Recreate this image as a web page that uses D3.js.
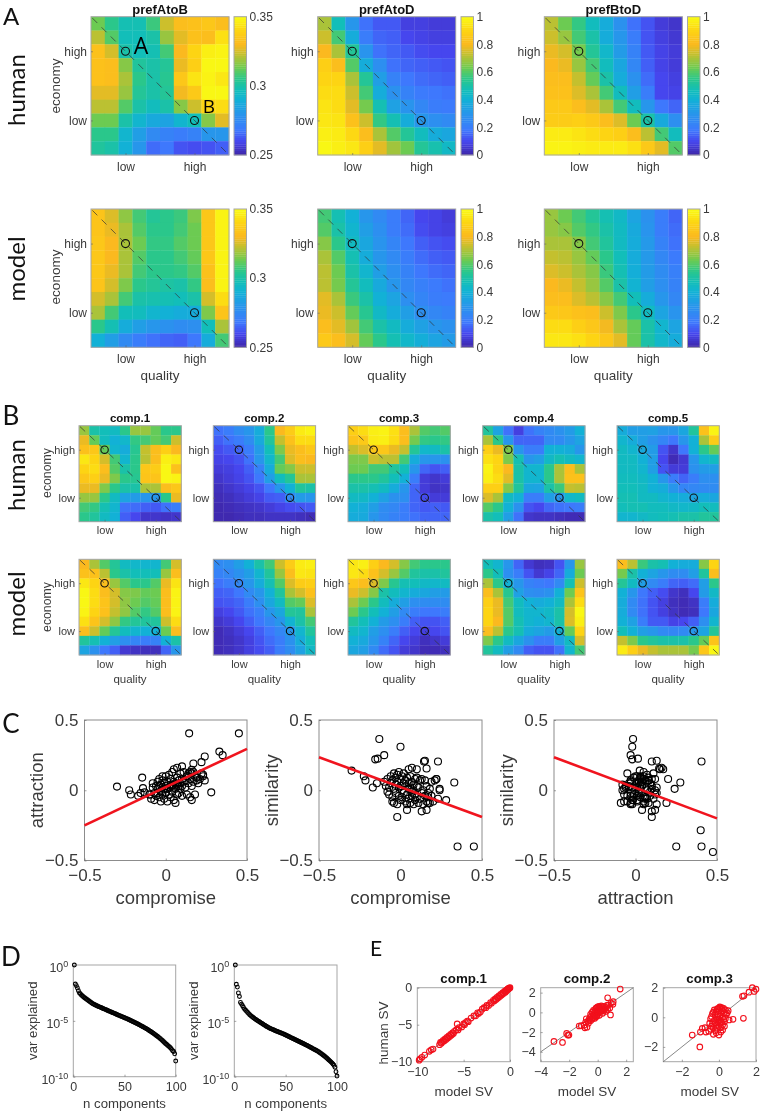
<!DOCTYPE html>
<html lang="en">
<head>
<meta charset="utf-8" />
<script src="https://cdnjs.cloudflare.com/ajax/libs/d3/7.8.5/d3.min.js"></script>
<style>
  html, body { margin: 0; padding: 0; background: #fff; }
  svg { display: block; font-family: "Liberation Sans", sans-serif; filter: blur(0.35px); }
</style>
</head>
<body>
<div id="chart"></div>
<script>
var parulaStops = ["#3e26a8", "#4646ee", "#3e78fd", "#2796eb", "#12b1d6", "#12beb9", "#2ac78b", "#6ccb52", "#c4c02e", "#fbb91f", "#fdd413", "#f9fb14"];
var parulaPos = [0, .1, .18, .3, .4, .47, .55, .63, .73, .8, .9, 1];

var tickLow = 2.5, tickHigh = 7.5;
var levelLabels = ["low", "high"];

var prefAtoBHuman = [
  [.313,.305,.298,.298,.307,.324,.332,.333,.335,.332],
  [.322,.31,.297,.297,.3,.318,.327,.333,.332,.343],
  [.333,.325,.3,.297,.298,.308,.33,.34,.347,.348],
  [.333,.332,.316,.302,.3,.303,.328,.338,.349,.349],
  [.333,.332,.32,.305,.3,.304,.335,.344,.348,.345],
  [.327,.327,.318,.303,.3,.303,.329,.336,.349,.349],
  [.322,.322,.31,.3,.296,.3,.316,.324,.34,.342],
  [.313,.313,.3,.292,.287,.285,.292,.297,.316,.327],
  [.305,.305,.292,.283,.275,.272,.27,.272,.28,.28],
  [.302,.3,.29,.28,.266,.268,.262,.261,.262,.264]];
var prefAtoDHuman = [
  [.7,.47,.3,.17,.13,.13,.08,.08,.07,.07],
  [.74,.58,.38,.2,.15,.14,.1,.09,.08,.08],
  [.8,.7,.53,.29,.17,.15,.13,.11,.1,.1],
  [.88,.82,.6,.38,.27,.17,.15,.14,.13,.12],
  [.9,.9,.7,.53,.33,.22,.18,.16,.15,.14],
  [.92,.92,.74,.58,.38,.28,.22,.19,.18,.17],
  [.94,.92,.77,.64,.48,.34,.29,.24,.2,.19],
  [.95,.94,.83,.74,.56,.48,.38,.3,.27,.25],
  [.97,.96,.91,.82,.7,.6,.53,.46,.38,.36],
  [.99,.97,.95,.88,.77,.69,.63,.53,.49,.44]];
var prefBtoDHuman = [
  [.72,.63,.56,.46,.38,.28,.17,.12,.07,.05],
  [.74,.68,.58,.5,.38,.3,.2,.12,.08,.06],
  [.78,.75,.64,.53,.43,.32,.22,.13,.09,.07],
  [.8,.78,.68,.58,.46,.36,.24,.14,.09,.07],
  [.82,.82,.73,.62,.5,.38,.28,.16,.1,.08],
  [.83,.83,.76,.7,.58,.46,.33,.2,.1,.09],
  [.86,.86,.82,.77,.7,.58,.46,.3,.18,.15],
  [.87,.87,.88,.86,.82,.76,.63,.5,.37,.27],
  [.96,.96,.94,.92,.9,.88,.82,.72,.58,.46],
  [.98,.98,.97,.96,.96,.96,.93,.86,.77,.6]];
var prefAtoBModel = [
  [.334,.326,.317,.308,.303,.305,.307,.315,.335,.348],
  [.334,.328,.32,.31,.305,.305,.308,.313,.335,.348],
  [.335,.33,.32,.313,.306,.306,.31,.313,.335,.348],
  [.335,.33,.32,.31,.305,.305,.308,.312,.335,.348],
  [.335,.328,.32,.308,.305,.305,.306,.31,.333,.348],
  [.334,.325,.315,.305,.303,.301,.3,.306,.332,.348],
  [.325,.32,.308,.3,.299,.298,.297,.3,.325,.342],
  [.32,.308,.297,.296,.292,.29,.288,.288,.315,.334],
  [.305,.298,.288,.283,.28,.278,.276,.277,.297,.32],
  [.29,.283,.275,.27,.267,.265,.264,.268,.288,.308]];
var prefAtoDModel = [
  [.58,.48,.4,.3,.25,.2,.15,.1,.09,.07],
  [.6,.5,.42,.33,.27,.2,.16,.11,.09,.08],
  [.66,.55,.45,.36,.29,.23,.18,.14,.12,.11],
  [.7,.6,.48,.38,.3,.25,.2,.16,.14,.13],
  [.72,.63,.5,.42,.33,.27,.22,.18,.16,.15],
  [.72,.64,.53,.46,.37,.3,.24,.21,.19,.17],
  [.77,.7,.57,.5,.4,.35,.27,.23,.2,.19],
  [.78,.74,.62,.54,.44,.38,.33,.27,.24,.22],
  [.82,.77,.69,.58,.5,.45,.38,.34,.3,.28],
  [.86,.82,.75,.62,.55,.48,.43,.39,.35,.32]];
var prefBtoDModel = [
  [.68,.63,.58,.53,.48,.44,.35,.28,.2,.15],
  [.68,.66,.6,.56,.5,.45,.37,.29,.2,.16],
  [.7,.7,.66,.58,.52,.45,.38,.31,.22,.17],
  [.73,.72,.68,.62,.55,.47,.38,.31,.24,.19],
  [.76,.74,.7,.66,.57,.48,.39,.32,.26,.21],
  [.8,.78,.73,.68,.6,.5,.41,.33,.27,.22],
  [.82,.82,.76,.72,.66,.58,.47,.38,.3,.24],
  [.86,.85,.83,.82,.74,.65,.55,.45,.35,.29],
  [.92,.92,.88,.85,.79,.7,.62,.5,.42,.35],
  [.95,.95,.93,.9,.85,.77,.62,.5,.43,.38]];

var comp1Human = [
  [.68,.5,.47,.45,.55,.68,.68,.62,.55,.55],
  [.78,.62,.46,.4,.43,.56,.58,.62,.58,.74],
  [.83,.85,.62,.42,.38,.54,.73,.82,.88,.8],
  [.95,.9,.75,.58,.42,.55,.72,.82,.97,.95],
  [.9,.92,.82,.6,.5,.55,.85,.87,.99,.83],
  [.85,.88,.78,.65,.55,.54,.84,.84,.99,.98],
  [.78,.78,.65,.55,.5,.5,.7,.7,.82,.85],
  [.68,.68,.55,.45,.35,.32,.3,.3,.55,.78],
  [.58,.56,.48,.42,.17,.16,.14,.13,.17,.2],
  [.55,.52,.45,.4,.14,.1,.05,.05,.04,.05]];
var comp2Human = [
  [.17,.2,.26,.3,.38,.55,.8,.87,.96,.98],
  [.14,.17,.2,.26,.37,.52,.73,.83,.92,.92],
  [.11,.13,.15,.2,.32,.47,.65,.78,.82,.85],
  [.09,.1,.12,.17,.3,.43,.58,.76,.82,.8],
  [.07,.08,.1,.14,.22,.38,.62,.66,.74,.74],
  [.05,.07,.09,.12,.18,.33,.46,.53,.7,.7],
  [.03,.05,.07,.09,.12,.18,.3,.4,.52,.5],
  [.02,.03,.05,.07,.09,.13,.14,.25,.32,.3],
  [.01,.02,.03,.04,.05,.07,.09,.11,.12,.13],
  [.01,.01,.02,.03,.03,.04,.04,.04,.03,.02]];
var comp3Human = [
  [.88,.92,.97,.98,.93,.82,.7,.6,.58,.6],
  [.84,.86,.96,.97,.92,.82,.64,.56,.55,.56],
  [.73,.76,.85,.85,.78,.73,.53,.43,.45,.5],
  [.65,.65,.74,.72,.72,.58,.38,.3,.3,.28],
  [.63,.63,.58,.58,.52,.47,.3,.15,.12,.14],
  [.55,.55,.55,.52,.47,.4,.2,.07,.05,.07],
  [.5,.5,.48,.45,.38,.3,.15,.07,.04,.05],
  [.45,.44,.4,.34,.28,.27,.15,.11,.07,.07],
  [.4,.38,.33,.26,.24,.2,.15,.13,.14,.13],
  [.38,.37,.3,.25,.22,.2,.17,.15,.15,.15]];
var comp4Human = [
  [.52,.35,.17,.08,.17,.22,.25,.28,.32,.4],
  [.7,.55,.3,.15,.15,.15,.25,.25,.3,.35],
  [.88,.78,.65,.3,.2,.2,.4,.4,.38,.3],
  [.93,.9,.65,.48,.3,.33,.44,.48,.45,.42],
  [.98,.9,.8,.5,.42,.42,.55,.7,.82,.7],
  [.97,.92,.77,.5,.42,.42,.55,.7,.83,.83],
  [.88,.88,.66,.52,.36,.35,.5,.57,.73,.72],
  [.76,.7,.45,.4,.2,.2,.33,.3,.43,.45],
  [.6,.55,.4,.28,.12,.1,.15,.17,.18,.2],
  [.5,.47,.33,.17,.05,.04,.04,.03,.02,.02]];
var comp5Human = [
  [.38,.33,.33,.34,.3,.3,.36,.52,.83,.98],
  [.42,.38,.33,.28,.23,.18,.3,.4,.7,.87],
  [.45,.42,.37,.32,.12,.05,.18,.4,.55,.62],
  [.45,.45,.4,.33,.1,.02,.06,.3,.42,.45],
  [.45,.45,.42,.33,.12,.07,.07,.28,.32,.33],
  [.46,.46,.44,.4,.3,.2,.15,.2,.27,.27],
  [.47,.47,.45,.4,.38,.3,.23,.24,.25,.26],
  [.48,.48,.45,.45,.42,.4,.38,.35,.38,.36],
  [.47,.48,.48,.46,.46,.44,.43,.44,.47,.46],
  [.42,.42,.44,.46,.47,.48,.5,.5,.52,.52]];
var comp1Model = [
  [.8,.7,.6,.53,.45,.43,.42,.42,.58,.75],
  [.83,.83,.72,.55,.5,.47,.47,.47,.68,.82],
  [.95,.9,.82,.68,.6,.55,.55,.6,.78,.94],
  [.99,.92,.82,.75,.66,.65,.62,.63,.82,.98],
  [.99,.92,.84,.75,.67,.63,.6,.62,.82,.98],
  [.98,.9,.83,.73,.67,.6,.56,.6,.82,.98],
  [.93,.84,.75,.67,.56,.53,.52,.52,.74,.92],
  [.82,.74,.62,.53,.46,.42,.4,.4,.63,.82],
  [.52,.48,.4,.33,.27,.23,.2,.22,.4,.5],
  [.35,.28,.18,.14,.06,.04,.03,.03,.15,.3]];
var comp2Model = [
  [.25,.27,.33,.4,.5,.58,.74,.87,.96,.97],
  [.22,.24,.28,.33,.42,.52,.68,.82,.95,.94],
  [.17,.2,.24,.3,.38,.48,.6,.76,.87,.88],
  [.14,.15,.18,.25,.3,.4,.52,.7,.75,.83],
  [.12,.13,.15,.2,.27,.36,.45,.6,.62,.76],
  [.08,.1,.13,.17,.21,.3,.36,.53,.52,.7],
  [.05,.07,.1,.14,.18,.24,.3,.41,.5,.58],
  [.02,.04,.07,.1,.14,.18,.24,.3,.42,.52],
  [.02,.03,.05,.08,.12,.16,.2,.28,.38,.47],
  [.02,.03,.05,.08,.11,.14,.2,.26,.34,.44]];
var comp3Model = [
  [.95,.97,.88,.8,.75,.66,.58,.55,.55,.55],
  [.95,.92,.83,.75,.68,.6,.52,.5,.5,.52],
  [.85,.82,.76,.65,.54,.48,.47,.44,.43,.45],
  [.78,.74,.66,.5,.46,.42,.38,.36,.33,.32],
  [.7,.63,.55,.46,.38,.33,.27,.26,.26,.26],
  [.63,.55,.47,.4,.33,.25,.2,.18,.18,.2],
  [.52,.47,.4,.32,.27,.2,.14,.12,.12,.14],
  [.45,.42,.33,.27,.2,.14,.1,.08,.1,.12],
  [.4,.37,.3,.22,.15,.1,.07,.03,.05,.07],
  [.36,.33,.25,.16,.12,.07,.05,.02,.02,.03]];
var comp4Model = [
  [.47,.42,.3,.15,.06,.03,.04,.12,.3,.68],
  [.55,.47,.27,.2,.12,.06,.09,.15,.38,.63],
  [.7,.55,.4,.3,.22,.2,.18,.25,.48,.74],
  [.82,.7,.54,.34,.27,.26,.28,.4,.63,.84],
  [.88,.78,.58,.46,.4,.38,.4,.45,.7,.92],
  [.9,.78,.6,.46,.42,.42,.44,.5,.75,.99],
  [.9,.8,.6,.48,.42,.4,.42,.5,.76,.97],
  [.82,.72,.55,.48,.38,.35,.32,.4,.62,.9],
  [.65,.55,.45,.36,.28,.2,.2,.33,.45,.75],
  [.52,.45,.33,.25,.14,.12,.12,.17,.42,.58]];
var comp5Model = [
  [.82,.72,.57,.5,.48,.4,.38,.38,.66,.9],
  [.64,.5,.4,.35,.3,.26,.26,.33,.52,.82],
  [.53,.45,.33,.25,.2,.15,.14,.16,.33,.55],
  [.4,.3,.18,.14,.11,.05,.03,.1,.32,.44],
  [.38,.25,.17,.12,.08,.03,.02,.04,.2,.38],
  [.38,.25,.17,.12,.08,.04,.02,.03,.18,.36],
  [.4,.34,.2,.13,.13,.09,.1,.14,.27,.42],
  [.47,.4,.33,.3,.25,.24,.25,.3,.35,.53],
  [.73,.65,.55,.52,.5,.5,.5,.55,.62,.84],
  [.96,.88,.78,.73,.7,.7,.7,.64,.85,.99]];

// panel C: one entry per participant. last two sit past the compromise limit, so only the third plot shows them
var compromise = [.45,.144,.35,.33,.28,.24,.22,.17,-.3,-.225,-.215,-.17,-.145,-.13,0,-.1,-.155,-.14,.16,.23,.15,.1,-.02,.13,.16,.04,
  -.1,-.09,-.08,-.08,-.07,-.07,-.06,-.06,-.05,-.05,-.05,-.04,-.04,-.04,-.03,-.03,-.03,-.02,-.02,-.02,-.01,-.01,-.01,0,0,0,.01,.01,.01,.02,.02,.02,.03,.03,.03,.04,.04,.04,.05,.05,.05,.05,.06,.06,.06,.07,.07,.07,.07,.08,.08,.08,.09,.09,.09,.1,.1,.1,.11,.11,.12,.12,.13,.13,.14,.14,.15,.15,.16,.16,.17,.17,.18,.18,.19,.2,.21,.22,.23,.24,.19,
  .6,.55];
var attraction = [.405,.405,.25,.275,-.015,.24,.2,.19,.026,0,-.03,-.04,.09,-.015,-.02,-.03,-.02,.015,.145,.1,.13,.17,.1,.1,.12,.04,
  -.03,-.06,.02,.05,-.07,-.02,.03,-.04,-.02,.06,.01,-.05,.03,.08,-.08,-.01,.04,.02,-.03,.07,-.06,.01,.05,.1,-.02,.03,-.08,.01,.06,-.03,.02,.11,-.05,.04,.08,-.01,.03,.13,-.07,.02,.06,.15,-.09,.01,.05,-.03,.04,.09,.16,-.02,.03,.07,.01,.05,.12,-.04,.03,.08,.06,.13,.02,.07,-.03,.1,.05,.12,-.05,.08,-.07,.03,.06,.13,-.03,.1,.07,.05,.08,.12,.11,.07,.09,
  .475,.4];
var similarity = [-.4,.205,-.4,.055,-.07,.01,.08,-.09,.14,.1,.07,.02,.05,.365,.31,.25,.22,.225,.155,.205,.21,.15,-.19,-.15,-.14,-.14,
  .06,.03,-.01,.08,-.03,.02,.1,.05,-.05,.07,-.08,.12,.01,-.09,.04,.09,-.02,.06,-.1,.11,.02,-.04,.13,.03,-.07,.08,0,.1,-.05,.05,-.02,.12,-.08,.03,.07,-.03,.09,-.1,.01,.05,-.06,.15,-.09,.02,.1,-.04,.06,-.01,.16,-.1,.04,0,-.07,.08,-.03,.03,-.05,.09,-.09,.02,.07,-.06,-.02,.08,-.1,0,-.04,.07,-.08,.03,-.05,-.02,-.09,.01,.06,-.08,.07,.08,-.06,0,-.04,
  -.44,-.285];
var fitAttraction = [-.25, .295];
var fitSimilarity = [.235, -.19];
var fitSimilarityAttr = [.235, -.2];
var fitX = [-.5, .5];

// panel D: log10 of var explained, components 1..100
var logVarHuman = [0,-1.7,-1.85,-2.05,-2.3,-2.5,-2.6,-2.7,-2.78,-2.86,
  -2.93,-3,-3.07,-3.13,-3.2,-3.27,-3.34,-3.4,-3.46,-3.52,
  -3.56,-3.6,-3.65,-3.69,-3.73,-3.77,-3.81,-3.85,-3.89,-3.93,
  -3.97,-4.01,-4.05,-4.09,-4.13,-4.17,-4.21,-4.25,-4.29,-4.33,
  -4.37,-4.41,-4.45,-4.49,-4.53,-4.56,-4.6,-4.64,-4.68,-4.72,
  -4.76,-4.8,-4.84,-4.88,-4.93,-4.97,-5.01,-5.06,-5.1,-5.14,
  -5.19,-5.23,-5.28,-5.33,-5.38,-5.43,-5.48,-5.53,-5.58,-5.63,
  -5.68,-5.74,-5.8,-5.86,-5.92,-5.98,-6.04,-6.1,-6.17,-6.24,
  -6.31,-6.38,-6.45,-6.52,-6.6,-6.68,-6.76,-6.85,-6.94,-7.03,
  -7.1,-7.18,-7.26,-7.34,-7.42,-7.55,-7.68,-7.75,-7.95,-8.6];
var logVarModel = [0,-1.73,-1.98,-2.5,-2.82,-3.35,-3.5,-3.65,-3.8,-3.95,
  -4.05,-4.15,-4.25,-4.35,-4.45,-4.53,-4.6,-4.68,-4.75,-4.82,
  -4.88,-4.94,-5,-5.06,-5.12,-5.18,-5.24,-5.3,-5.36,-5.42,
  -5.48,-5.53,-5.58,-5.63,-5.68,-5.72,-5.76,-5.8,-5.84,-5.88,
  -5.92,-5.96,-6,-6.03,-6.07,-6.1,-6.14,-6.18,-6.22,-6.27,
  -6.31,-6.36,-6.4,-6.45,-6.5,-6.54,-6.58,-6.63,-6.67,-6.72,
  -6.76,-6.8,-6.85,-6.9,-6.94,-6.98,-7.02,-7.07,-7.12,-7.17,
  -7.21,-7.26,-7.31,-7.36,-7.41,-7.46,-7.51,-7.56,-7.61,-7.66,
  -7.71,-7.77,-7.83,-7.89,-7.96,-8.03,-8.1,-8.17,-8.25,-8.33,
  -8.41,-8.5,-8.58,-8.67,-8.76,-8.86,-8.98,-9.15,-9.55,-9.94];

// panel E: singular values, model then human
var sv1Model = [-9.8,-9.7,-9.5,-9.2,-8.7,-8.5,-8.3,-7.6,-7.5,-7.4,-7.3,-7.2,-7.1,-7,-6.9,-6.8,-6.7,-6.6,-6.5,-6.4,-6.3,-6.2,-6.1,-6,-5.8,-5.7,-5.6,-5.5,-5.2,-5,-4.9,-4.8,-4.6,-4.5,-4.2,-3.9,-3.7,-3.5,-3.4,-3.2,-3,-2.8,-2.6,-2.5,-2.3,-2.1,-2,-1.8,-1.7,-1.6,-1.5,-1.4,-1.3,-1.2,-1.1,-1,-.9,-.8,-.7,-.6,-.5,-.45,-.4,-.35,-.3,-.25,-.2,-.15,-.1,-.05,0];
var sv1Human = [-9.8,-9.6,-9.4,-9.1,-8.6,-8.4,-8.3,-7.7,-7.4,-7.5,-7.3,-7.1,-7.2,-6.9,-7,-6.7,-6.8,-6.5,-6.6,-6.3,-6.4,-6.1,-6.2,-5.9,-5.7,-4.9,-5.7,-5.4,-5.3,-4.9,-5,-4.7,-4.5,-4.6,-4.1,-3.8,-3.8,-3.4,-3.5,-3.3,-2.9,-2.7,-2.7,-2.4,-2.4,-2,-2.1,-1.7,-1.8,-1.5,-1.6,-1.3,-1.4,-1.1,-1.2,-.9,-1,-.7,-.8,-.5,-.6,-.4,-.45,-.3,-.3,-.2,-.2,-.1,-.1,-.05,0];
var sv2Model = [-3.07,-2.47,-2.18,-2.02,-2.1,1.58,.7,1.09,1.07,.9,-1.3,-1.15,-.9,-.8,-.95,-.75,-.7,-.65,-.6,-.55,-.5,-.5,-.45,-.4,-.4,-.35,-.3,-.3,-.25,-.2,-.2,-.15,-.15,-.1,-.1,-.05,-.05,0,0,0,.05,.05,.1,.1,.15,.15,.2,.2,.25,.25,.3,.3,.35,.4,.4,.45,.5,.55,.6,.65,.7,.75,.85,.95,-.85,-.6,-.35,-.1,.12,.35];
var sv2Human = [-2.95,-3.05,-2.13,-2.3,-2.3,2.36,1.48,1.08,.82,-.26,-1.38,-1.35,-1.57,-.65,-1.3,-1.5,-.9,-1.1,-.7,-.55,-.85,-.2,-.4,-.7,0,-.5,-.15,.2,-.3,-.6,.1,-.25,.35,-.1,.45,-.35,.2,-.2,.1,.55,-.05,.3,.6,.05,.2,.5,.1,.4,.25,.65,.15,.5,.3,.35,.6,.2,.4,.1,.5,.7,.3,.75,.45,.95,-1.0,-.8,-.6,-.45,-.3,-.1];
var sv3Model = [-1.03,-1.44,-.9,-1.0,-.75,-.7,1.32,.55,.76,1.27,1.35,1.62,1.8,1.9,2,-.55,-.5,-.45,-.45,-.4,-.4,-.35,-.35,-.3,-.3,-.25,-.25,-.2,-.2,-.2,-.15,-.15,-.1,-.1,-.1,-.05,-.05,-.05,0,0,0,.05,.05,.05,.1,.1,.1,.15,.15,.2,.2,.2,.25,.25,.3,.3,.35,.35,.4,.45,.5,-.3,-.15,0,.1,.2,.3,-.05,.05,.15];
var sv3Human = [-2,-1.2,-.75,-1.0,-.7,-1.0,-.07,-.18,-.14,1.42,1.45,1.7,2,1.75,1.9,-.95,-.4,-.8,-.1,-.6,.05,-.45,.25,-.7,.35,-.2,.5,-.9,-.35,.15,-.55,.4,-.75,-.1,.55,-.3,.2,.6,-.6,-.15,.45,-.4,.1,.65,-.7,-.2,.3,-.35,.55,-.5,0,.45,-.15,.6,-.3,.3,-.1,.5,.2,.3,.45,-1.15,-1.05,-1.2,-1.0,-.85,-.6,.05,.7,.65];

var width = 762, height = 1112;
var textColor = "#3a3a3a", frameColor = "#a6a6a6";

var svg = d3.select("#chart").append("svg").attr("width", width).attr("height", height);

var parula = d3.scaleLinear().domain(parulaPos).range(parulaStops).interpolate(d3.interpolateRgb);

function label(x, y, txt, size, opts) {
  opts = opts || {};
  var t = svg.append("text")
    .attr("transform", "translate(" + x + "," + y + ")" + (opts.rotate ? " rotate(-90)" : ""))
    .attr("text-anchor", opts.anchor || "middle")
    .attr("dominant-baseline", "central")
    .attr("font-size", size)
    .attr("fill", opts.fill || textColor)
    .text(txt);
  if (opts.bold) t.attr("font-weight", "bold").attr("fill", "#111");
  if (opts.font) t.attr("font-family", opts.font);
  return t;
}

function tidyAxis(g, size, color) {
  g.select(".domain").remove();
  g.selectAll(".tick line").attr("stroke", "#666").attr("stroke-width", .6);
  g.selectAll(".tick text").attr("font-size", size).attr("fill", textColor).attr("font-family", "Liberation Sans");
}

function heatmap(matrix, box, domain, opts) {
  var x = d3.scaleLinear().domain([0, 10]).range([box.x, box.x + box.w]);
  var y = d3.scaleLinear().domain([0, 10]).range([box.y, box.y + box.h]);
  var color = d3.scaleLinear().domain(domain).range([0, 1]).clamp(true);
  var g = svg.append("g");
  matrix.forEach(function (row, r) {
    g.selectAll(null).data(row).enter().append("rect")
      .attr("x", function (d, c) { return x(c); })
      .attr("y", y(r))
      .attr("width", x(1) - x(0) + .3)
      .attr("height", y(1) - y(0) + .3)
      .attr("fill", function (d) { return parula(color(d)); });
  });
  g.append("rect").attr("x", box.x).attr("y", box.y).attr("width", box.w).attr("height", box.h)
    .attr("fill", "none").attr("stroke", frameColor).attr("stroke-width", 1);

  g.append("line")
    .attr("x1", x(.1)).attr("y1", y(.1)).attr("x2", x(9.85)).attr("y2", y(9.85))
    .attr("stroke", "#333").attr("stroke-width", .7).attr("stroke-dasharray", "7,6");
  [[tickLow, tickLow], [tickHigh, tickHigh]].forEach(function (p) {
    g.append("circle").attr("cx", x(p[0])).attr("cy", y(p[1])).attr("r", opts.r)
      .attr("fill", "none").attr("stroke", "#111").attr("stroke-width", 1.1);
  });

  var ax = d3.axisBottom(x).tickValues([tickLow, tickHigh]).tickSize(-2).tickPadding(opts.pad)
    .tickFormat(function (d, i) { return levelLabels[i]; });
  g.append("g").attr("transform", "translate(0," + (box.y + box.h) + ")").call(ax).call(tidyAxis, opts.size);
  var ay = d3.axisLeft(y).tickValues([tickLow, tickHigh]).tickSize(-2).tickPadding(4)
    .tickFormat(function (d, i) { return levelLabels[1 - i]; });
  g.append("g").attr("transform", "translate(" + box.x + ",0)").call(ay).call(tidyAxis, opts.size);
}

function colorbar(box, domain, ticks, fmt) {
  var y = d3.scaleLinear().domain(domain).range([box.y + box.h, box.y]);
  var levels = d3.range(64);
  var v = d3.scaleLinear().domain([0, 64]).range(domain);
  var pos = d3.scaleLinear().domain(domain).range([0, 1]);
  svg.append("g").selectAll("rect").data(levels).enter().append("rect")
    .attr("x", box.x).attr("width", box.w)
    .attr("y", function (d) { return y(v(d + 1)); })
    .attr("height", y(v(0)) - y(v(1)) + .3)
    .attr("fill", function (d) { return parula(pos(v(d + .5))); });
  svg.append("rect").attr("x", box.x).attr("y", box.y).attr("width", box.w).attr("height", box.h)
    .attr("fill", "none").attr("stroke", frameColor);
  var ax = d3.axisRight(y).tickValues(ticks).tickSize(0).tickPadding(3).tickFormat(fmt);
  svg.append("g").attr("transform", "translate(" + (box.x + box.w) + ",0)").call(ax).call(tidyAxis, 12);
}

// panel A
var aHuman = [prefAtoBHuman, prefAtoDHuman, prefBtoDHuman];
var aModel = [prefAtoBModel, prefAtoDModel, prefBtoDModel];
var aTitles = ["prefAtoB", "prefAtoD", "prefBtoD"];
var aX = [91, 317.7, 544.3];
var aBarX = [234, 461, 687.5];
var aDomains = [[.25, .35], [0, 1], [0, 1]];
var aTicks = [[.25, .3, .35], [0, .2, .4, .6, .8, 1], [0, .2, .4, .6, .8, 1]];
aHuman.forEach(function (m, i) {
  var boxH = { x: aX[i], y: 16.7, w: 138, h: 138.3 };
  var boxM = { x: aX[i], y: 209, w: 138, h: 138.3 };
  var opts = { r: 4, size: 12, pad: 7 };
  heatmap(m, boxH, aDomains[i], opts);
  heatmap(aModel[i], boxM, aDomains[i], opts);
  var fmt = function (d) { return d3.format("")(d); };
  colorbar({ x: aBarX[i], y: boxH.y, w: 12.5, h: boxH.h }, aDomains[i], aTicks[i], fmt);
  colorbar({ x: aBarX[i], y: boxM.y, w: 12.5, h: boxM.h }, aDomains[i], aTicks[i], fmt);
  label(aX[i] + 69, 9, aTitles[i], 13, { bold: true });
  label(aX[i] + 69, 375, "quality", 13.5);
});
label(55, 86, "economy", 13.5, { rotate: true });
label(55, 277, "economy", 13.5, { rotate: true });
label(141, 45, "A", 23, { font: "Open Sans", fill: "#000" });
label(209, 106, "B", 19, { font: "Open Sans", fill: "#000" });

// panel B
var bHuman = [comp1Human, comp2Human, comp3Human, comp4Human, comp5Human];
var bModel = [comp1Model, comp2Model, comp3Model, comp4Model, comp5Model];
var bTitles = ["comp.1", "comp.2", "comp.3", "comp.4", "comp.5"];
var bX = [79, 213.3, 348, 482.7, 617];
bHuman.forEach(function (m, i) {
  var opts = { r: 3.7, size: 11, pad: 5 };
  heatmap(m, { x: bX[i], y: 425.7, w: 102.3, h: 96 }, [0, 1], opts);
  heatmap(bModel[i], { x: bX[i], y: 559.3, w: 102.3, h: 95.7 }, [0, 1], opts);
  label(bX[i] + 51, 418, bTitles[i], 11.5, { bold: true });
  label(bX[i] + 51, 679, "quality", 11.5);
});
label(47, 473, "economy", 12.3, { rotate: true });
label(47, 607, "economy", 12.3, { rotate: true });

// panel C
function scatterC(box, xs, ys, fit, xName, yName) {
  var x = d3.scaleLinear().domain([-.5, .5]).range([box.x, box.x + box.w]);
  var y = d3.scaleLinear().domain([-.5, .5]).range([box.y + box.h, box.y]);
  var g = svg.append("g");
  g.append("rect").attr("x", box.x).attr("y", box.y).attr("width", box.w).attr("height", box.h)
    .attr("fill", "none").attr("stroke", "#8c8c8c");
  var fmt = function (d) { return d3.format("")(d); };
  g.append("g").attr("transform", "translate(0," + (box.y + box.h) + ")")
    .call(d3.axisBottom(x).tickValues([-.5, 0, .5]).tickSize(-2).tickPadding(8).tickFormat(fmt)).call(tidyAxis, 17);
  g.append("g").attr("transform", "translate(" + box.x + ",0)")
    .call(d3.axisLeft(y).tickValues([-.5, 0, .5]).tickSize(-2).tickPadding(6).tickFormat(fmt)).call(tidyAxis, 17);
  var pts = d3.range(xs.length).filter(function (i) { return Math.abs(xs[i]) <= .5 && Math.abs(ys[i]) <= .5; });
  g.selectAll("circle").data(pts).enter().append("circle")
    .attr("cx", function (i) { return x(xs[i]); })
    .attr("cy", function (i) { return y(ys[i]); })
    .attr("r", 3.5).attr("fill", "none").attr("stroke", "#000").attr("stroke-width", 1.1);
  g.append("line").attr("x1", x(fitX[0])).attr("y1", y(fit[0])).attr("x2", x(fitX[1])).attr("y2", y(fit[1]))
    .attr("stroke", "#f0141e").attr("stroke-width", 2.6);
  label(box.x + box.w / 2, 897, xName, 18.5);
  label(box.x - 48, box.y + box.h / 2, yName, 18.5, { rotate: true });
}
scatterC({ x: 84.5, y: 720, w: 162.5, h: 140.5 }, compromise, attraction, fitAttraction, "compromise", "attraction");
scatterC({ x: 319, y: 720, w: 163, h: 140.5 }, compromise, similarity, fitSimilarity, "compromise", "similarity");
scatterC({ x: 554, y: 720, w: 163, h: 140.5 }, attraction, similarity, fitSimilarityAttr, "attraction", "similarity");

// panel D
function screePlot(box, logs) {
  var x = d3.scaleLinear().domain([0, 100]).range([box.x, box.x + box.w]);
  var y = d3.scaleLog().domain([1, 1e-10]).range([box.y, box.y + box.h]);
  var g = svg.append("g");
  g.append("rect").attr("x", box.x).attr("y", box.y).attr("width", box.w).attr("height", box.h)
    .attr("fill", "none").attr("stroke", frameColor);
  g.append("g").attr("transform", "translate(0," + (box.y + box.h) + ")")
    .call(d3.axisBottom(x).tickValues([0, 50, 100]).tickSize(-2).tickPadding(5)).call(tidyAxis, 12.5);
  var ay = g.append("g").attr("transform", "translate(" + box.x + ",0)")
    .call(d3.axisLeft(y).tickValues([1, 1e-5, 1e-10]).tickSize(-2).tickPadding(5).tickFormat(""));
  tidyAxis(ay, 12.5);
  var exps = ["0", "-5", "-10"];
  ay.selectAll(".tick text").each(function (d, i) {
    var t = d3.select(this).text("10").attr("dy", "0.55em");
    t.append("tspan").attr("dy", "-0.55em").attr("font-size", 9).text(exps[i]);
  });
  g.selectAll("circle").data(logs).enter().append("circle")
    .attr("cx", function (d, i) { return x(i + 1); })
    .attr("cy", function (d) { return y(Math.pow(10, d)); })
    .attr("r", 1.9).attr("fill", "none").attr("stroke", "#000").attr("stroke-width", 1.1);
  label(box.x + box.w / 2, 1103, "n components", 13.2);
  label(box.x - 40.5, 1020.7, "var explained", 13.2, { rotate: true });
}
screePlot({ x: 73.3, y: 965, w: 102.4, h: 111.7 }, logVarHuman);
screePlot({ x: 234.3, y: 965, w: 102.7, h: 111.7 }, logVarModel);

// panel E
function svPlot(box, xDom, yDom, xTicks, yTicks, diag, xs, ys, title) {
  var x = d3.scaleLinear().domain(xDom).range([box.x, box.x + box.w]);
  var y = d3.scaleLinear().domain(yDom).range([box.y + box.h, box.y]);
  var g = svg.append("g");
  g.append("rect").attr("x", box.x).attr("y", box.y).attr("width", box.w).attr("height", box.h)
    .attr("fill", "none").attr("stroke", frameColor);
  g.append("g").attr("transform", "translate(0," + (box.y + box.h) + ")")
    .call(d3.axisBottom(x).tickValues(xTicks).tickSize(-2).tickPadding(5).tickFormat(d3.format("d"))).call(tidyAxis, 12.5);
  g.append("g").attr("transform", "translate(" + box.x + ",0)")
    .call(d3.axisLeft(y).tickValues(yTicks).tickSize(-2).tickPadding(5).tickFormat(d3.format("d"))).call(tidyAxis, 12.5);
  g.append("line").attr("x1", x(diag[0])).attr("y1", y(diag[0])).attr("x2", x(diag[1])).attr("y2", y(diag[1]))
    .attr("stroke", "#555").attr("stroke-width", .7);
  g.selectAll("circle").data(xs).enter().append("circle")
    .attr("cx", function (d) { return x(d); })
    .attr("cy", function (d, i) { return y(ys[i]); })
    .attr("r", 2.8).attr("fill", "none").attr("stroke", "#f2101c").attr("stroke-width", 1.1);
  label(box.x + box.w / 2, 978, title, 13.3, { bold: true });
  label(box.x + box.w / 2, 1091.7, "model SV", 13.5);
}
svPlot({ x: 417.3, y: 987.7, w: 92.7, h: 74 }, [-10, 0], [-10, 0], [-10, -5, 0], [-10, -5, 0], [-10, 0], sv1Model, sv1Human, "comp.1");
svPlot({ x: 540.7, y: 987.7, w: 92.6, h: 74 }, [-4, 2.5], [-5, 2.5], [-4, -2, 0, 2], [-4, -2, 0, 2], [-4, 2.5], sv2Model, sv2Human, "comp.2");
svPlot({ x: 663.3, y: 987.7, w: 92.7, h: 74 }, [-3, 2], [-3, 2], [-2, 0, 2], [-2, 0, 2], [-3, 2], sv3Model, sv3Human, "comp.3");
label(383, 1033, "human SV", 13.5, { rotate: true });

// big row and panel letters
var big = "Lato";
label(15, 90, "human", 24, { rotate: true, font: big, fill: "#111" });
label(15, 269, "model", 24, { rotate: true, font: big, fill: "#111" });
label(15, 475, "human", 24, { rotate: true, font: big, fill: "#111" });
label(15, 604, "model", 24, { rotate: true, font: big, fill: "#111" });
label(11, 15, "A", 24, { font: big, fill: "#111" });
label(11, 415, "B", 26, { font: big, fill: "#111" });
label(11, 723, "C", 26, { font: big, fill: "#111" });
label(11, 956, "D", 26, { font: big, fill: "#111" });
label(376, 947, "E", 21, { font: big, fill: "#111" });
</script>
</body>
</html>
